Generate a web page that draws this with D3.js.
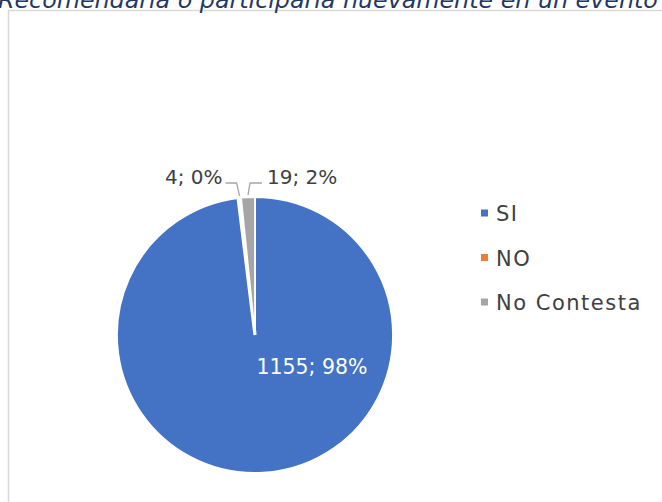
<!DOCTYPE html>
<html><head><meta charset="utf-8">
<script src="https://cdn.jsdelivr.net/npm/d3@7"></script>
<style>
html,body{margin:0;padding:0;background:#fff;overflow:hidden;}
text{font-family:"DejaVu Sans",sans-serif;}
</style></head>
<body><svg id="c" width="662" height="502"></svg>
<script>
const categories = ["SI", "NO", "No Contesta"];
const values = [1155, 4, 19];
const percentLabels = ["98%", "0%", "2%"];
const colors = ["#4472C4", "#ED7D31", "#A5A5A5"];
const title = "¿Recomendaría o participaría nuevamente en un evento de este tipo?";

const svg = d3.select("#c");

// chart frame
svg.append("rect").attr("x", 8.5).attr("y", 10.5).attr("width", 700).attr("height", 520)
  .attr("fill", "#fff").attr("stroke", "#D9D9D9").attr("stroke-width", 1.5);

// title (clipped at top)
const t = svg.append("text").attr("y", 7.5)
  .attr("font-size", 20).attr("font-style", "italic").attr("fill", "#1F3864")
  .text("¿");
const wq20 = t.node().getComputedTextLength();
t.text("Recomendaría o participaría nuevamente en un evento ");
const wbody20 = t.node().getComputedTextLength();
const fs = 20 * 660 / wbody20;
t.attr("font-size", fs).attr("x", -wq20 * fs / 20 - 2).text(title);

const cx = 255, cy = 335, R = 138;
const pie = d3.pie().sort(null).value(d => d)(values);
const arc = d3.arc().innerRadius(0).outerRadius(R);
const g = svg.append("g").attr("transform", `translate(${cx},${cy})`);
g.selectAll("path").data(pie).join("path")
  .attr("d", arc).attr("fill", (d, i) => colors[i])
  .attr("stroke", "#fff").attr("stroke-width", (d, i) => i === 1 ? 3.2 : 1.8);

const lab = (i) => values[i] + "; " + percentLabels[i];
g.append("text").attr("x", 57).attr("y", 32).attr("dy", "0.35em")
  .attr("text-anchor", "middle").attr("font-size", 20.5).attr("fill", "#fff")
  .text(lab(0));

const edge = (d) => {
  const a = (d.startAngle + d.endAngle) / 2;
  return [R * Math.sin(a), -R * Math.cos(a)];
};
const leaderY = -152;
{
  const [ex, ey] = edge(pie[1]);
  g.append("path").attr("d", `M${ex},${ey - 2} L${ex - 3},${leaderY} L${ex - 14},${leaderY}`)
    .attr("fill", "none").attr("stroke", "#A6A6A6").attr("stroke-width", 1.3);
  g.append("text").attr("x", ex - 17).attr("y", leaderY - 6).attr("dy", "0.35em")
    .attr("text-anchor", "end").attr("font-size", 20).attr("fill", "#404040").text(lab(1));
}
{
  const [ex, ey] = edge(pie[2]);
  g.append("path").attr("d", `M${ex},${ey - 2} L${ex + 2},${leaderY} L${ex + 14},${leaderY}`)
    .attr("fill", "none").attr("stroke", "#A6A6A6").attr("stroke-width", 1.3);
  g.append("text").attr("x", ex + 19).attr("y", leaderY - 6).attr("dy", "0.35em")
    .attr("text-anchor", "start").attr("font-size", 20).attr("fill", "#404040").text(lab(2));
}

const lg = svg.append("g").attr("transform", "translate(481,213)");
const li = lg.selectAll("g").data(categories).join("g")
  .attr("transform", (d, i) => `translate(0,${i * 44.5})`);
li.append("rect").attr("x", 0).attr("y", -3.5).attr("width", 7).attr("height", 7)
  .attr("fill", (d, i) => colors[i]);
li.append("text").attr("x", 15).attr("y", 1).attr("dy", "0.35em")
  .attr("font-size", 21).attr("letter-spacing", 1.5).attr("fill", "#404040").text(d => d);
</script></body></html>
